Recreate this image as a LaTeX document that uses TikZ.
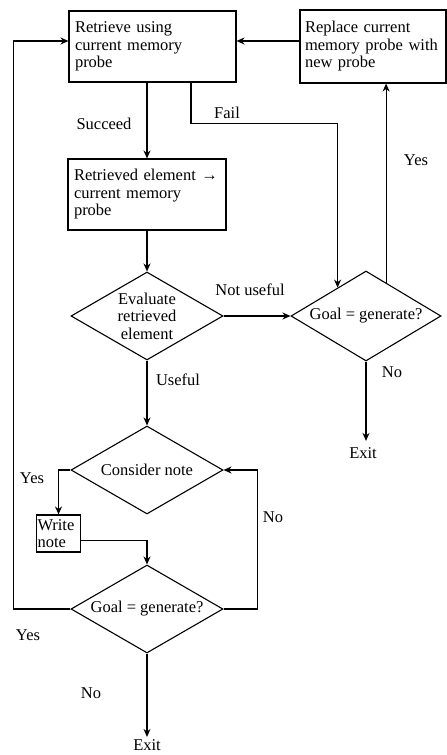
\documentclass[tikz,border=0pt]{standalone}
\usepackage{fontspec}
\setmainfont{Liberation Serif}
\usetikzlibrary{shapes.geometric,arrows.meta}

\begin{document}
\begin{tikzpicture}[x=1pt,y=-1pt,line width=1.1pt,
  font=\fontsize{16.5}{17.5}\selectfont,
  box/.style={draw,rectangle,align=left,inner ysep=2pt},
  choice/.style={draw,diamond,shape aspect=1.7,align=center,inner sep=0pt,
    minimum width=152pt,minimum height=88pt},
  arr/.style={-{Stealth[length=8pt,width=7pt]}},
  lbl/.style={inner sep=0pt}]
\useasboundingbox (0,0) rectangle (447,755);

\node[box,text width=155pt,inner xsep=6pt,minimum height=71pt] (retrieve) at (152.5,46.5)
  {Retrieve using\\current memory\\probe};
\node[box,text width=136pt,inner xsep=5pt,minimum height=73pt] (replace) at (373,46.5)
  {Replace current\\memory probe with\\new probe};
\node[box,text width=146pt,inner xsep=6pt,minimum height=71pt] (elem) at (147,194.5)
  {Retrieved element →\\current memory\\probe};
\node[choice] (evalnode) at (147,316) {Evaluate\\retrieved\\element};
\node[choice,minimum width=150pt,minimum height=90pt] (goalA) at (366,316) {Goal = generate?};
\node[choice] (consider) at (147,470) {Consider note};
\node[box,text width=42pt,inner xsep=1pt,inner ysep=0pt,minimum height=37pt] (write) at (58.5,533.5)
  {Write\\note};
\node[choice] (goalB) at (147,609) {Goal = generate?};
\node[inner sep=6pt] (exitA) at (363,453) {Exit};
\node[inner sep=2pt] (exitB) at (147,745) {Exit};

\draw[arr] ([yshift=5.5pt]replace.west) -- ([yshift=5.5pt]retrieve.east);
\draw[arr] (retrieve.south -| elem.north) -- (elem.north);
\draw[arr] ([xshift=38.5pt]retrieve.south) -- ++(0,41) -| (goalA.135);
\draw[arr] (goalA.59) -- (goalA.59 |- replace.south);
\draw[arr] (elem.south) -- (evalnode.north);
\draw[arr] (evalnode.east) -- (goalA.west);
\draw[arr] (evalnode.south) -- (consider.north);
\draw[arr] (goalA.south) -- (goalA.south |- exitA.north);
\draw[arr] (consider.west) -| (write.north);
\draw[arr] ([yshift=-7pt]write.east) -| (goalB.north);
\draw[arr] (goalB.east) -- ++(34,0) |- (consider.east);
\draw[arr] (goalB.west) -- ++(-57,0) |- ([yshift=5.5pt]retrieve.west);
\draw[arr] (goalB.south) -- (exitB.north);

\node[lbl] (succ) at (104,124) {Succeed};
\node[lbl] (fail) at (227,113) {Fail};
\node[lbl] (yesA) at (416,160) {Yes};
\node[lbl] (notuse) at (250,290) {Not useful};
\node[lbl] (useful) at (178,380) {Useful};
\node[lbl] (noA) at (392,372) {No};
\node[lbl] (yesB) at (32,478) {Yes};
\node[lbl] (noB) at (273,517) {No};
\node[lbl] (yesC) at (28,635) {Yes};
\node[lbl] (noC) at (91,693) {No};
\end{tikzpicture}
\end{document}
